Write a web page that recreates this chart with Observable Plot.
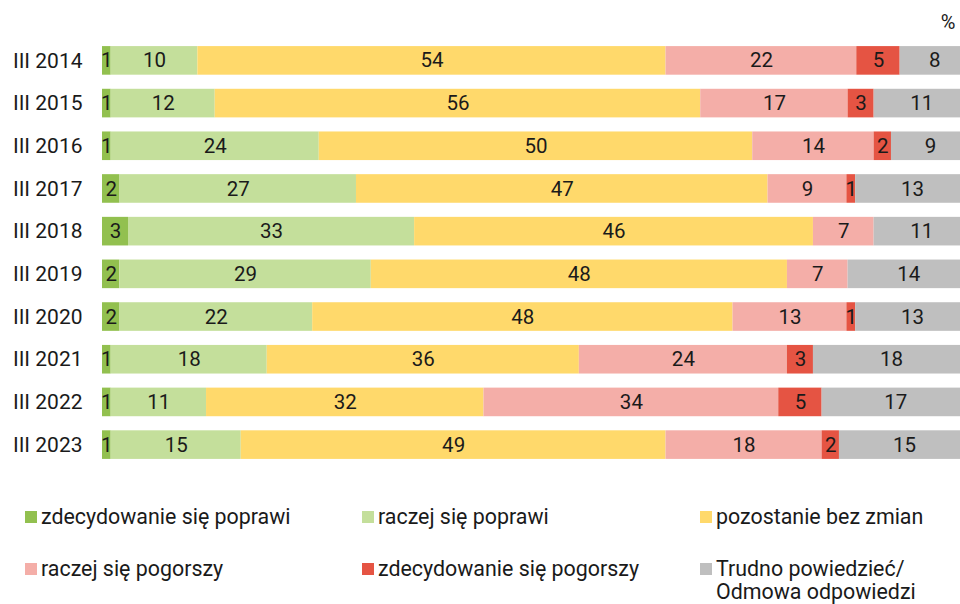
<!DOCTYPE html>
<html><head><meta charset="utf-8">
<script src="https://cdn.jsdelivr.net/npm/d3@7"></script>
<script src="https://cdn.jsdelivr.net/npm/@observablehq/plot@0.6"></script>
<style>
html,body{margin:0;background:#fff;font-family:Roboto,sans-serif;overflow:hidden;}
#wrap{position:relative;width:960px;height:604px;overflow:hidden;}
#wrap svg{position:absolute;left:0;top:0;max-width:none !important;width:969px !important;height:480px !important;}
.lg{position:absolute;font-size:21.4px;color:#1a1a1a;line-height:23px;white-space:nowrap;}
.sw{position:absolute;width:12px;height:12px;}
</style></head>
<body><div id="wrap"></div>
<script>
const years = ["III 2014","III 2015","III 2016","III 2017","III 2018","III 2019","III 2020","III 2021","III 2022","III 2023"];
const categories = ["zdecydowanie się poprawi","raczej się poprawi","pozostanie bez zmian","raczej się pogorszy","zdecydowanie się pogorszy","Trudno powiedzieć/\nOdmowa odpowiedzi"];
const colors = ["#92c04f","#c4df9b","#ffd96b","#f4aea8","#e55443","#bfbfbf"];
const strongBetter = [1,1,1,2,3,2,2,1,1,1];
const ratherBetter = [10,12,24,27,33,29,22,18,11,15];
const noChange = [54,56,50,47,46,48,48,36,32,49];
const ratherWorse = [22,17,14,9,7,7,13,24,34,18];
const strongWorse = [5,3,2,1,0,0,1,3,5,2];
const dontKnow = [8,11,9,13,11,14,13,18,17,15];
const series = [strongBetter, ratherBetter, noChange, ratherWorse, strongWorse, dontKnow];

const data = [];
years.forEach((y, i) => series.forEach((s, j) => {
  if (s[i] > 0) data.push({year: y, cat: categories[j], value: s[i]});
}));

const stackOpts = {x: "value", y: "year", z: "cat", order: categories, offset: "normalize"};

const chart = Plot.plot({
  width: 969, height: 480,
  marginLeft: 102, marginRight: 0, marginTop: 32, marginBottom: 7,
  style: {fontFamily: "Roboto, sans-serif", fontSize: "21px", color: "#1a1a1a", overflow: "visible", maxWidth: "none"},
  x: {axis: null, domain: [0, 1]},
  y: {domain: years, padding: 0.33, round: false, label: null, tickSize: 0, tickPadding: 20},
  color: {domain: categories, range: colors},
  marks: [
    Plot.barX(data, Plot.stackX({...stackOpts, fill: "cat"})),
    Plot.text(data, Plot.stackX({...stackOpts, text: d => String(d.value), fill: "#1a1a1a", fontSize: 20.5})),
    Plot.text(["%"], {frameAnchor: "top-right", text: d => d, dx: -14, dy: -10, lineAnchor: "middle", textAnchor: "end", fontSize: 20, fill: "#1a1a1a"})
  ]
});
const wrap = document.getElementById("wrap");
wrap.appendChild(chart);

const legendPos = [[25,505],[362,505],[700,505],[25,557],[362,557],[700,557]];
categories.forEach((c, i) => {
  const [x, y] = legendPos[i];
  const sw = document.createElement("div");
  sw.className = "sw";
  sw.style.left = x + "px"; sw.style.top = (y + 6) + "px"; sw.style.background = colors[i];
  wrap.appendChild(sw);
  const t = document.createElement("div");
  t.className = "lg";
  t.style.left = (x + 16) + "px"; t.style.top = y + "px";
  t.innerHTML = c.split("\n").join("<br>");
  wrap.appendChild(t);
});
</script></body></html>
